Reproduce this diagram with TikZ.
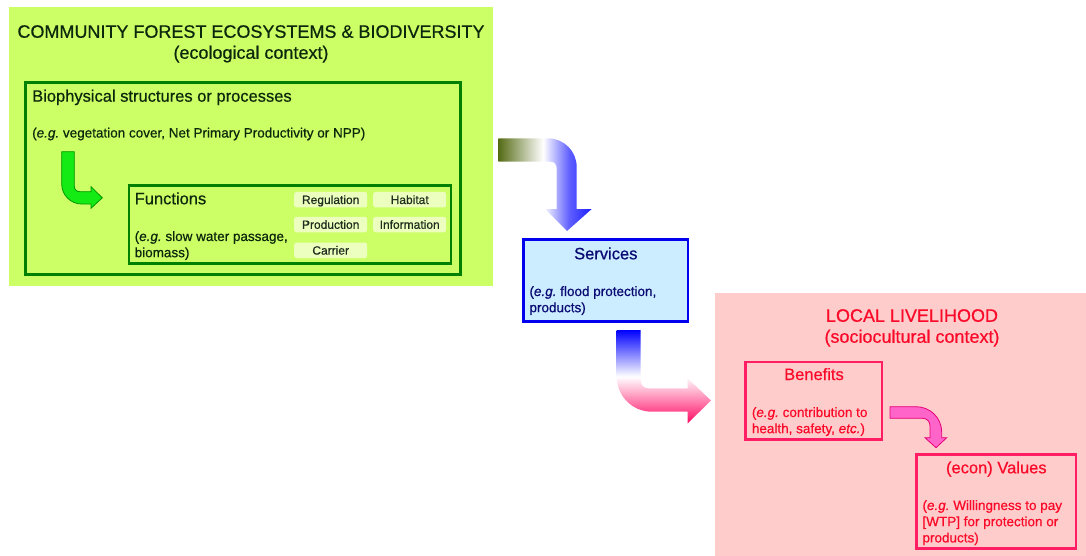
\documentclass[tikz,border=0pt]{standalone}
\usepackage{fontspec}
\setmainfont{Liberation Sans}[FakeBold=0.6]
\definecolor{ecoFill}{RGB}{204,255,102}
\definecolor{ecoText}{RGB}{12,40,12}
\definecolor{ecoLine}{RGB}{0,128,0}
\definecolor{tagFill}{RGB}{236,255,190}
\definecolor{tagText}{RGB}{30,45,30}
\definecolor{arrowGreen}{RGB}{20,235,20}
\definecolor{arrowGreenLine}{RGB}{0,150,0}
\definecolor{svcFill}{RGB}{204,236,255}
\definecolor{svcLine}{RGB}{0,0,238}
\definecolor{svcText}{RGB}{10,10,115}
\definecolor{liveFill}{RGB}{255,204,204}
\definecolor{liveText}{RGB}{250,10,40}
\definecolor{liveLine}{RGB}{255,30,100}
\definecolor{arrowPink}{RGB}{255,100,200}
\definecolor{arrowPinkLine}{RGB}{230,0,120}
\definecolor{oliveDark}{RGB}{85,107,20}
\definecolor{arrowBlue}{RGB}{30,30,255}
\definecolor{midBlue}{RGB}{95,95,255}
\definecolor{deepPink}{RGB}{255,10,100}
\pgfdeclarehorizontalshading{oliveToBlue}{100bp}{color(0bp)=(oliveDark); color(25bp)=(oliveDark);
    color(49bp)=(white); color(63bp)=(midBlue); color(75bp)=(arrowBlue); color(100bp)=(arrowBlue)}

\begin{document}
\begin{tikzpicture}[x=1pt, y=-1pt,
        panel/.style = {inner sep=0pt},
        box/.style = {draw, line width=2.6pt, inner sep=0pt},
        tag/.style = {fill=tagFill, rounded corners=2.5pt, minimum width=73pt, minimum height=15.5pt,
            inner sep=0pt, text height=8.6pt, text depth=0pt, text=tagText, font=\fontsize{12}{14}\selectfont},
        head/.style = {inner sep=0pt, font=\fontsize{16.5}{19}\selectfont},
        note/.style = {inner sep=0pt, anchor=north west, align=left, font=\fontsize{13.5}{16.2}\selectfont},
        title/.style = {inner sep=0pt, anchor=north, align=center, font=\fontsize{18}{21}\selectfont} ]
        \useasboundingbox (0,0) rectangle (1086,556);

        \node at (251.15, 146.5) [panel, fill=ecoFill, minimum width=484.3pt, minimum height=279pt] (eco) {};
        \node at (900.5, 424.65) [panel, fill=liveFill, minimum width=371pt, minimum height=262.7pt] (live) {};

        \node at (251, 25) [title, text=ecoText] (ecoTitle) {COMMUNITY FOREST ECOSYSTEMS \& BIODIVERSITY\\(ecological context)};
        \node at (242.85, 178.5) [box, draw=ecoLine, minimum width=434.9pt, minimum height=192.2pt] (bio) {};
        \node at (32, 101.7) [head, anchor=base west, text=ecoText] (bioTitle) {Biophysical structures or processes};
        \node at (32, 137.5) [note, anchor=base west, text=ecoText] (bioNote) {(\textit{e.g.}\ vegetation cover, Net Primary Productivity or NPP)};

        \node at (290.1, 224.5) [box, draw=ecoLine, minimum width=322pt, minimum height=78.2pt] (func) {};
        \node at (134.5, 204.3) [head, anchor=base west, text=ecoText] (funcTitle) {Functions};
        \node at (134.5, 231) [note, text=ecoText] (funcNote) {(\textit{e.g.}\ slow water passage,\\biomass)};
        \node at (330.7, 199.7) [tag] (regulation) {Regulation};
        \node at (409.7, 199.7) [tag] (habitat) {Habitat};
        \node at (330.7, 224.5) [tag] (production) {Production};
        \node at (409.7, 224.5) [tag] (information) {Information};
        \node at (330.7, 250.3) [tag] (carrier) {Carrier};

        \filldraw[fill=arrowGreen, draw=arrowGreenLine, line width=0.8pt]
        (61.7,151.7) -- (74.3,151.7) -- (74.3,186) .. controls (74.3,189.5) and (76.5,191.7) .. (80,191.7)
        -- (91,191.7) -- (91,186.7) -- (102.3,197.8) -- (91,208.3) -- (91,204) -- (81.7,204)
        .. controls (70.7,204) and (61.7,195) .. (61.7,184) -- cycle;

        \shade[shading=oliveToBlue]
        (498.3,138.3) -- (548,138.3) .. controls (563.8,138.3) and (576.7,151.2) .. (576.7,167)
        -- (576.7,209) -- (591.7,209) -- (567,231) -- (545,209) -- (556.7,209) -- (556.7,169)
        .. controls (556.7,164.5) and (554.7,161.7) .. (550.7,161.7) -- (498.3,161.7) -- cycle;

        \node at (605.8, 280.5) [box, draw=svcLine, fill=svcFill, minimum width=164.5pt, minimum height=81.9pt] (svc) {};
        \node at (605.8, 259.3) [head, anchor=base, text=svcText] (svcTitle) {Services};
        \node at (529.3, 286) [note, text=svcText] (svcNote) {(\textit{e.g.}\ flood protection,\\products)};

        \shade[top color=blue, bottom color=deepPink, middle color=white]
        (616.7,330) -- (640.7,330) -- (640.7,380) .. controls (640.7,385) and (643.7,388.3) .. (648.7,388.3)
        -- (687.7,388.3) -- (687.7,378.3) -- (711,400.5) -- (687.7,423.3) -- (687.7,411.7) -- (651.7,411.7)
        .. controls (632.4,411.7) and (616.7,396) .. (616.7,376.7) -- cycle;

        \node at (912, 309) [title, text=liveText] (liveTitle) {LOCAL LIVELIHOOD\\(sociocultural context)};
        \node at (813.8, 400.7) [box, draw=liveLine, minimum width=136.5pt, minimum height=77.5pt] (benefits) {};
        \node at (814, 380) [head, anchor=base, text=liveText] (benTitle) {Benefits};
        \node at (751.7, 407) [note, text=liveText] (benNote) {(\textit{e.g.}\ contribution to\\health, safety, \textit{etc.})};

        \filldraw[fill=arrowPink, draw=arrowPinkLine, line width=0.8pt]
        (890,406.7) -- (916,406.7) .. controls (930.3,406.7) and (941.7,418) .. (941.7,432)
        -- (941.7,437.7) -- (946.7,437.7) -- (936,447.7) -- (925,437.7) -- (930,437.7) -- (930,426)
        .. controls (930,421.5) and (927,418.3) .. (922.5,418.3) -- (890,418.3) -- cycle;

        \node at (996.15, 501.65) [box, draw=liveLine, minimum width=159.8pt, minimum height=94.2pt] (values) {};
        \node at (996.3, 473.3) [head, anchor=base, text=liveText] (valTitle) {(econ) Values};
        \node at (922.3, 500) [note, text=liveText] (valNote) {(\textit{e.g.}\ Willingness to pay\\{[WTP]} for protection or\\products)};

    \end{tikzpicture}
\end{document}
